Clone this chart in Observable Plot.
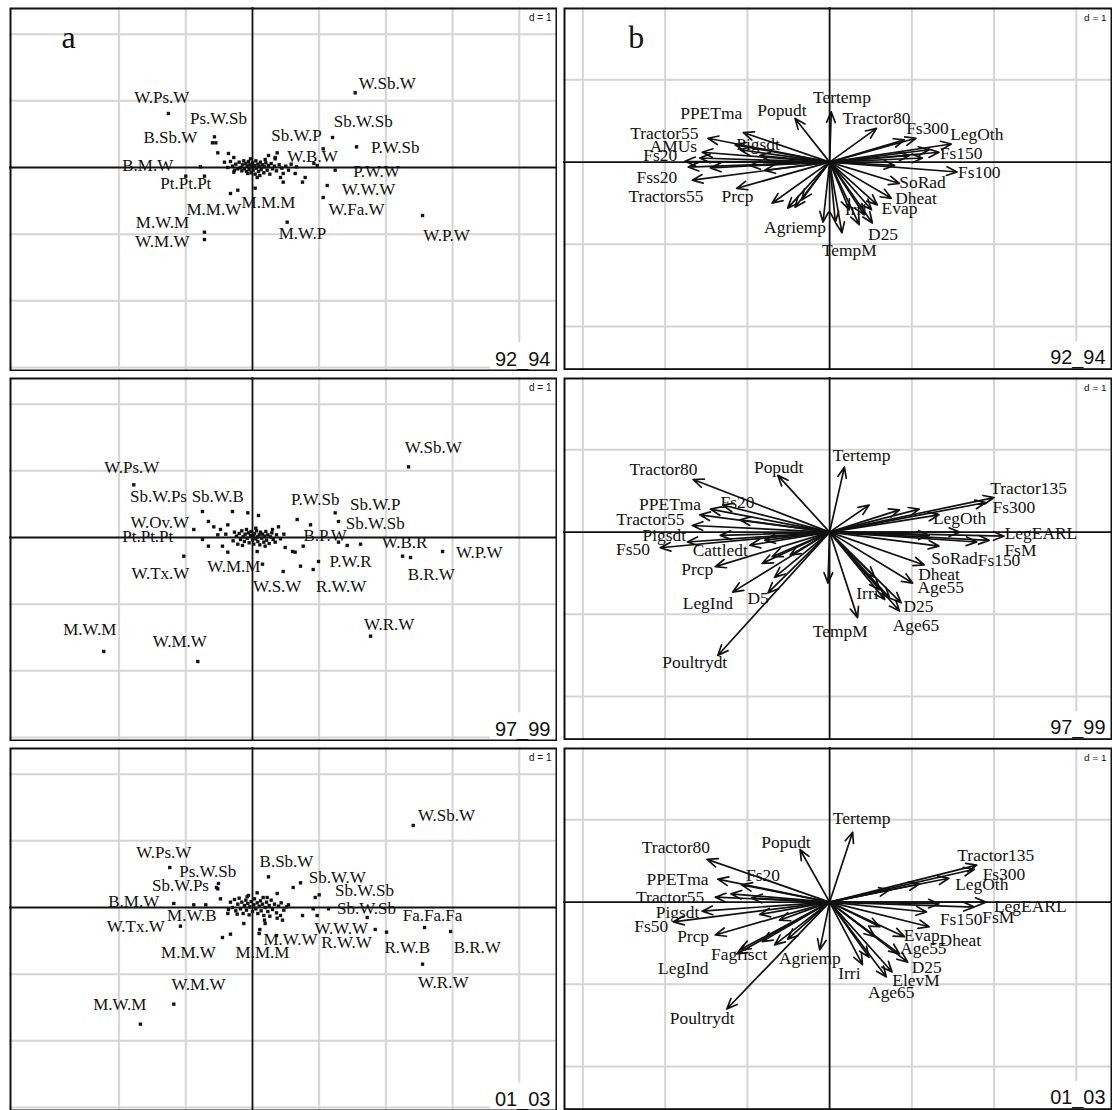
<!DOCTYPE html>
<html><head><meta charset="utf-8">
<script src="https://cdn.jsdelivr.net/npm/d3@7"></script>
<script src="https://cdn.jsdelivr.net/npm/@observablehq/plot@0.6"></script>
<style>
body{margin:0;background:#fff;}
#fig{position:relative;width:1112px;height:1110px;overflow:hidden;background:#fff;}
.panel{position:absolute;}
.panel svg{display:block;}
</style></head><body><div id="fig"></div>
<script>
// ---------- tick / grid values (d = 1) ----------
const leftGridX = [-2, -1, 1, 2, 3, 4];
const leftGridY = [2, 1, -1, -2, -3];
const rightGridX = [-3, -2, -1, 1, 2, 3];
const rightGridY = [1, -1, -2];
const leftXDomain = [-3.643, 4.573];
const leftYDomain = [-3.06, 2.4];
const rightXDomain = [-3.236, 3.44];
const rightYDomain = [-2.53, 1.88];
const periods = ["92_94", "97_99", "01_03"];
const panelLetters = ["a", "b"];

// ---------- (a) crop-sequence scores: [label, x, y, labelX, labelY] ----------
const a1Points = [
  ["W.Ps.W", -1.26, 0.81, -1.36, 1.05], ["Ps.W.Sb", -0.57, 0.46, -0.51, 0.73],
  ["B.Sb.W", -0.60, 0.37, -1.23, 0.45], ["B.M.W", -0.78, 0.01, -1.57, 0.03],
  ["Pt.Pt.Pt", -1.00, -0.13, -1.00, -0.24], ["M.M.W", -0.33, -0.39, -0.58, -0.63],
  ["M.W.M", -0.72, -0.97, -1.35, -0.82], ["W.M.W", -0.72, -1.08, -1.35, -1.11],
  ["M.M.M", 0.04, -0.31, 0.24, -0.52], ["Sb.W.P", 1.06, 0.28, 0.66, 0.48],
  ["W.B.W", 0.97, 0.03, 0.90, 0.16], ["W.Sb.W", 1.54, 1.12, 2.02, 1.26],
  ["Sb.W.Sb", 1.20, 0.45, 1.66, 0.69], ["P.W.Sb", 1.56, 0.31, 2.14, 0.30],
  ["P.W.W", 1.24, -0.04, 1.86, -0.06], ["W.W.W", 1.12, -0.27, 1.74, -0.33],
  ["W.Fa.W", 1.06, -0.45, 1.56, -0.63], ["M.W.P", 0.52, -0.82, 0.75, -0.99],
  ["W.P.W", 2.55, -0.72, 2.91, -1.02]
];
const a1Cloud = [
  [-0.55,0.37],[-0.52,0.22],[-0.36,0.21],[-0.28,0.15],[-0.37,0.00],[-0.28,-0.07],[-0.07,-0.09],[0.07,-0.15],
  [0.24,0.18],[0.34,0.15],[0.46,-0.09],[0.54,-0.04],[0.64,-0.09],[0.75,-0.22],[0.79,-0.15],[0.46,-0.22],
  [0.42,-0.15],[0.92,0.06],[0.37,0.22],[0.34,0.13],[-0.72,-0.13],[-0.22,-0.34],
  [-0.25,0.05],[-0.22,-0.02],[-0.20,0.08],[-0.18,0.00],[-0.16,-0.05],[-0.15,0.04],[-0.13,0.10],[-0.12,-0.02],
  [-0.10,0.06],[-0.09,-0.06],[-0.08,0.02],[-0.06,0.09],[-0.05,-0.03],[-0.04,0.04],[-0.02,-0.08],[-0.01,0.01],
  [0.00,0.07],[0.01,-0.04],[0.03,0.03],[0.04,-0.10],[0.05,0.10],[0.06,-0.01],[0.08,0.05],[0.09,-0.06],
  [0.10,0.02],[0.12,0.08],[0.13,-0.03],[0.15,0.04],[0.17,-0.08],[0.18,0.01],[0.20,0.07],[0.22,-0.04],
  [0.24,0.03],[0.26,-0.10],[0.28,0.06],[0.30,-0.02],[0.33,0.02],[0.36,-0.05],[0.40,0.04],[0.44,-0.01],
  [0.50,0.02],[-0.30,0.02],[-0.33,0.09],[-0.27,-0.04],[0.11,-0.12],[-0.03,0.13],[0.19,0.12],[0.58,0.05],
  [0.66,0.01],[-0.42,0.08]
];

const a2Points = [
  ["W.Ps.W", -1.78, 0.79, -1.81, 1.05], ["Sb.W.Ps", -0.75, 0.39, -1.41, 0.61],
  ["Sb.W.B", -0.30, 0.39, -0.52, 0.61], ["W.Ov.W", -0.88, 0.12, -1.39, 0.22],
  ["Pt.Pt.Pt", -0.75, -0.03, -1.57, 0.02], ["W.Tx.W", -1.03, -0.28, -1.38, -0.54],
  ["W.M.M", 0.15, -0.40, -0.28, -0.43], ["W.S.W", 0.46, -0.51, 0.37, -0.73],
  ["M.W.M", -2.23, -1.71, -2.44, -1.38], ["W.M.W", -0.82, -1.86, -1.09, -1.56],
  ["P.W.Sb", 0.67, 0.27, 0.94, 0.57], ["Sb.W.P", 1.24, 0.37, 1.84, 0.49],
  ["Sb.W.Sb", 1.29, 0.24, 1.84, 0.21], ["B.P.W", 1.29, -0.07, 1.09, 0.03],
  ["W.B.R", 2.25, -0.28, 2.28, -0.07], ["B.R.W", 2.37, -0.30, 2.68, -0.55],
  ["W.P.W", 2.85, -0.21, 3.40, -0.22], ["P.W.R", 0.99, -0.36, 1.47, -0.36],
  ["R.W.W", 0.91, -0.48, 1.33, -0.73], ["W.Sb.W", 2.34, 1.06, 2.71, 1.35],
  ["W.R.W", 1.77, -1.48, 2.05, -1.30]
];
const a2Cloud = [
  [-0.66,0.24],[-0.58,0.16],[-0.48,0.12],[-0.37,0.19],[-0.07,0.37],[0.09,0.33],[-0.66,-0.13],[-0.45,-0.13],
  [-0.37,-0.22],[-0.22,-0.10],[0.07,-0.21],[-0.52,0.04],[0.39,0.16],[0.49,-0.15],[0.60,-0.21],[0.64,-0.22],
  [0.76,-0.13],[0.87,0.19],[0.72,-0.43],[0.34,-0.07],[1.62,-0.10],[1.42,-0.12],
  [-0.20,0.06],[-0.18,-0.03],[-0.16,0.10],[-0.14,0.01],[-0.12,-0.06],[-0.11,0.05],[-0.09,0.12],[-0.08,-0.01],
  [-0.06,0.07],[-0.05,-0.08],[-0.03,0.03],[-0.02,0.09],[0.00,-0.04],[0.01,0.02],[0.02,-0.10],[0.03,0.06],
  [0.05,-0.02],[0.06,0.10],[0.07,0.01],[0.08,-0.06],[0.10,0.04],[0.11,-0.11],[0.12,0.08],[0.14,-0.01],
  [0.15,0.05],[0.17,-0.07],[0.18,0.02],[0.20,0.09],[0.21,-0.04],[0.23,0.04],[0.25,-0.09],[0.27,0.01],
  [0.29,0.07],[0.31,-0.03],[-0.24,0.02],[-0.27,0.08],[-0.29,-0.05],[0.36,0.04],[0.42,-0.02],[0.05,0.14],
  [-0.15,-0.12],[0.19,-0.13],[0.30,0.12],[0.47,0.05],[-0.40,0.05]
];

const a3Points = [
  ["W.Ps.W", -1.24, 0.60, -1.33, 0.82], ["Ps.W.Sb", -0.51, 0.36, -0.67, 0.54],
  ["Sb.W.Ps", -0.52, 0.28, -1.08, 0.33], ["B.M.W", -1.18, 0.06, -1.78, 0.09],
  ["W.Tx.W", -1.08, -0.28, -1.75, -0.28], ["M.W.B", -0.88, 0.04, -0.91, -0.12],
  ["M.M.W", -0.45, -0.45, -0.96, -0.67], ["M.M.M", 0.10, -0.39, 0.15, -0.67],
  ["W.M.W", -1.18, -1.45, -0.81, -1.15], ["M.W.M", -1.68, -1.75, -1.99, -1.45],
  ["B.Sb.W", 0.24, 0.46, 0.51, 0.69], ["M.W.W", 0.36, -0.42, 0.57, -0.48],
  ["Sb.W.W", 0.72, 0.37, 1.27, 0.45], ["Sb.W.Sb", 1.00, 0.19, 1.68, 0.25],
  ["Sb.W.Sb", 1.14, -0.02, 1.71, -0.02], ["Fa.Fa.Fa", 2.58, -0.30, 2.70, -0.12],
  ["B.R.W", 2.97, -0.36, 3.37, -0.60], ["R.W.B", 2.01, -0.37, 2.32, -0.60],
  ["W.R.W", 2.55, -0.85, 2.86, -1.12], ["W.W.W", 1.84, -0.33, 1.33, -0.31],
  ["R.W.W", 1.72, -0.15, 1.41, -0.52], ["W.Sb.W", 2.41, 1.23, 2.91, 1.38]
];
const a3Cloud = [
  [0.61,0.30],[0.37,0.21],[0.54,0.04],[0.75,-0.12],[0.91,-0.02],[0.97,-0.12],[0.94,0.15],[0.42,-0.12],
  [0.45,-0.19],[0.37,-0.16],[-0.54,0.30],[-0.48,0.13],[-0.37,-0.09],[-0.13,-0.24],[0.18,-0.19],[0.19,-0.24],
  [0.07,0.22],[0.22,0.15],[-0.06,0.18],[-0.70,0.04],[-0.33,-0.40],[0.11,-0.33],
  [-0.33,0.08],[-0.30,0.00],[-0.27,0.12],[-0.25,-0.05],[-0.22,0.05],[-0.20,0.14],[-0.18,-0.02],[-0.16,0.08],
  [-0.14,-0.09],[-0.12,0.03],[-0.10,0.11],[-0.09,-0.04],[-0.07,0.06],[-0.05,-0.11],[-0.04,0.01],[-0.02,0.09],
  [0.00,-0.06],[0.02,0.04],[0.03,0.13],[0.05,-0.02],[0.07,0.07],[0.08,-0.09],[0.10,0.02],[0.12,0.10],
  [0.13,-0.05],[0.15,0.05],[0.17,-0.12],[0.19,0.00],[0.21,0.08],[0.23,-0.06],[0.25,0.03],[0.28,0.11],
  [0.30,-0.03],[0.33,0.05],[0.36,-0.08],[0.39,0.02],[0.43,0.07],[0.47,-0.04],[0.51,0.01],[-0.36,-0.03],
  [-0.08,0.16],[0.16,0.15],[0.26,-0.13],[-0.23,-0.10]
];

// ---------- (b) variable loadings: [label, x, y, labelX, labelY] ("" = unlabelled arrow) ----------
const b1Arrows = [
  ["Tertemp", 0.02, 0.61, 0.15, 0.79], ["Popudt", -0.42, 0.53, -0.58, 0.63],
  ["PPETma", -1.05, 0.36, -1.44, 0.59], ["Tractor55", -1.48, 0.29, -2.01, 0.35],
  ["AMUs", -1.55, 0.12, -1.90, 0.19], ["Pigsdt", -1.15, 0.21, -0.87, 0.21],
  ["Fs20", -1.76, 0.01, -2.06, 0.08], ["Fss20", -1.67, -0.22, -2.10, -0.18],
  ["Tractors55", -1.72, -0.06, -1.99, -0.42], ["Prcp", -1.13, -0.32, -1.12, -0.42],
  ["Agriemp", -0.08, -0.73, -0.42, -0.79], ["TempM", 0.15, -0.86, 0.24, -1.07],
  ["Irri", 0.07, -0.73, 0.32, -0.58], ["D25", 0.52, -0.74, 0.65, -0.88],
  ["Evap", 0.51, -0.58, 0.85, -0.56], ["Dheat", 0.75, -0.44, 1.05, -0.44],
  ["SoRad", 0.85, -0.26, 1.13, -0.25], ["Fs100", 1.55, -0.12, 1.82, -0.13],
  ["Fs150", 1.33, 0.12, 1.60, 0.10], ["LegOth", 1.48, 0.22, 1.79, 0.34],
  ["Fs300", 1.05, 0.29, 1.19, 0.41], ["Tractor80", 0.57, 0.41, 0.57, 0.53],
  ["", 1.21, 0.15], ["", 1.13, 0.05], ["", 0.97, 0.08], ["", 0.91, 0.27], ["", 0.79, -0.04],
  ["", -1.09, 0.15], ["", -0.85, 0.08], ["", -0.97, -0.04], ["", -0.79, -0.10], ["", -1.45, -0.07],
  ["", -1.58, 0.05], ["", -0.70, -0.50], ["", -0.51, -0.56], ["", -0.42, -0.55], ["", -0.34, -0.46],
  ["", 0.42, -0.64], ["", 0.58, -0.52], ["", 0.36, -0.76], ["", 0.24, -0.58]
];
const b2Arrows = [
  ["Tertemp", 0.18, 0.79, 0.39, 0.93], ["Popudt", -0.63, 0.69, -0.62, 0.79],
  ["Tractor80", -1.66, 0.64, -2.02, 0.76], ["Fs20", -1.30, 0.33, -1.12, 0.36],
  ["PPETma", -1.45, 0.28, -1.94, 0.34], ["Tractor55", -1.67, 0.08, -2.18, 0.16],
  ["Pigsdt", -1.73, -0.12, -2.01, -0.04], ["Fs50", -2.06, -0.19, -2.39, -0.21],
  ["Cattledt", -0.97, -0.16, -1.33, -0.22], ["Prcp", -1.39, -0.42, -1.61, -0.45],
  ["LegInd", -1.18, -0.73, -1.48, -0.87], ["D5", -0.75, -0.74, -0.87, -0.81],
  ["Poultrydt", -1.36, -1.50, -1.64, -1.59], ["TempM", 0.34, -1.04, 0.13, -1.21],
  ["Irri", 0.67, -0.82, 0.46, -0.75], ["D25", 0.87, -0.86, 1.08, -0.90],
  ["Age65", 0.85, -0.96, 1.05, -1.14], ["Age55", 1.01, -0.62, 1.35, -0.67],
  ["Dheat", 1.15, -0.40, 1.33, -0.51], ["SoRad", 1.33, -0.17, 1.52, -0.32],
  ["Fs150", 1.79, -0.12, 2.06, -0.35], ["FsM", 1.94, -0.10, 2.32, -0.22],
  ["LegEARL", 2.12, -0.05, 2.57, -0.02], ["LegOth", 1.09, 0.28, 1.58, 0.17],
  ["Fs300", 1.90, 0.36, 2.24, 0.30], ["Tractor135", 2.00, 0.42, 2.42, 0.53],
  ["", 0.48, 0.33], ["", 0.85, 0.27], ["", 1.33, 0.21], ["", 1.58, 0.00], ["", 1.21, -0.04],
  ["", -1.09, 0.15], ["", -1.58, 0.21], ["", -1.33, -0.04], ["", -0.79, -0.10], ["", -0.48, -0.28],
  ["", -0.82, -0.38], ["", -0.70, -0.30], ["", -0.67, -0.55], ["", -0.02, -0.62], ["", 0.61, -0.70],
  ["", 0.73, -0.80], ["", 0.55, -0.55]
];
const b3Arrows = [
  ["Tertemp", 0.28, 0.85, 0.39, 1.02], ["Popudt", -0.36, 0.64, -0.53, 0.73],
  ["Tractor80", -1.49, 0.52, -1.87, 0.67], ["Fs20", -1.07, 0.21, -0.81, 0.32],
  ["PPETma", -1.36, 0.28, -1.85, 0.27], ["Tractor55", -1.39, 0.06, -1.94, 0.06],
  ["Pigsdt", -1.55, -0.11, -1.85, -0.13], ["Fs50", -1.90, -0.24, -2.17, -0.30],
  ["Prcp", -1.39, -0.40, -1.66, -0.42], ["Fagrisct", -1.13, -0.63, -1.10, -0.64],
  ["LegInd", -1.09, -0.58, -1.78, -0.81], ["Agriemp", -0.12, -0.58, -0.24, -0.69],
  ["Poultrydt", -1.25, -1.30, -1.55, -1.41], ["Irri", 0.40, -0.76, 0.24, -0.87],
  ["Age65", 0.69, -0.91, 0.75, -1.10], ["ElevM", 0.76, -0.85, 1.05, -0.95],
  ["D25", 0.95, -0.73, 1.18, -0.80], ["Age55", 0.85, -0.63, 1.14, -0.56],
  ["Evap", 0.91, -0.42, 1.12, -0.40], ["Dheat", 1.21, -0.30, 1.59, -0.46],
  ["Fs150", 1.18, -0.12, 1.60, -0.21], ["FsM", 1.76, -0.06, 2.05, -0.19],
  ["LegEARL", 1.90, 0.00, 2.44, -0.05], ["LegOth", 1.45, 0.29, 1.85, 0.21],
  ["Fs300", 1.76, 0.40, 2.12, 0.34], ["Tractor135", 1.79, 0.45, 2.02, 0.57],
  ["", -0.82, -0.48], ["", -0.67, -0.52], ["", -0.51, -0.45], ["", -0.85, -0.15], ["", -0.61, -0.22],
  ["", 0.73, 0.15], ["", 1.09, 0.22], ["", 1.33, -0.02], ["", 0.61, -0.30], ["", 0.55, -0.42],
  ["", 0.48, -0.67], ["", -1.20, 0.10], ["", -0.95, 0.05]
];

// ---------- drawing ----------
const SERIF = "'Liberation Serif', 'Times New Roman', serif";
const SANS = "'Liberation Sans', Arial, sans-serif";
const GRID = "#d5d5d5";
const INK = "#111";

function cornerMarks(tag, letter, letterDx) {
  const m = [
    Plot.text(["d = 1"], {frameAnchor: "top-right", textAnchor: "end", lineAnchor: "top", dx: -6, dy: 6, fontSize: 10, fontFamily: SANS, fill: INK}),
    Plot.text([tag], {frameAnchor: "bottom-right", textAnchor: "end", lineAnchor: "bottom", dx: -7, dy: -6, fontSize: 20, fontFamily: SANS, fill: INK})
  ];
  if (letter) m.push(Plot.text([letter], {frameAnchor: "top-left", textAnchor: "start", lineAnchor: "top", dx: letterDx, dy: 18, fontSize: 32, fontFamily: SERIF, fill: INK}));
  return m;
}

function leftPanel(points, cloud, tag, letter) {
  const pts = points.map(d => ({name: d[0], x: d[1], y: d[2], lx: d[3], ly: d[4]}));
  const cl = cloud.map(d => ({x: d[0], y: d[1]}));
  return Plot.plot({
    width: 548, height: 364, margin: 0,
    x: {domain: leftXDomain, axis: null},
    y: {domain: leftYDomain, axis: null},
    style: {background: "white"},
    marks: [
      Plot.ruleX(leftGridX, {stroke: GRID, strokeWidth: 2}),
      Plot.ruleY(leftGridY, {stroke: GRID, strokeWidth: 2}),
      Plot.ruleX([0], {stroke: INK, strokeWidth: 1.8}),
      Plot.ruleY([0], {stroke: INK, strokeWidth: 1.8}),
      Plot.dot(cl, {x: "x", y: "y", r: 1.9, fill: INK, symbol: "square"}),
      Plot.dot(pts, {x: "x", y: "y", r: 1.9, fill: INK, symbol: "square"}),
      Plot.text(pts, {x: "lx", y: "ly", text: "name", fontSize: 17, fontFamily: SERIF, fill: INK}),
      ...cornerMarks(tag, letter, 52),
      Plot.frame({stroke: INK, strokeWidth: 2, inset: 1})
    ]
  });
}

function rightPanel(arrows, tag, letter) {
  const arr = arrows.map(d => ({name: d[0], x: d[1], y: d[2], lx: d[3], ly: d[4]}));
  const labelled = arr.filter(d => d.name !== "");
  return Plot.plot({
    width: 551, height: 364, margin: 0,
    x: {domain: rightXDomain, axis: null},
    y: {domain: rightYDomain, axis: null},
    style: {background: "white"},
    marks: [
      Plot.ruleX(rightGridX, {stroke: GRID, strokeWidth: 2}),
      Plot.ruleY(rightGridY, {stroke: GRID, strokeWidth: 2}),
      Plot.ruleX([0], {stroke: INK, strokeWidth: 1.8}),
      Plot.ruleY([0], {stroke: INK, strokeWidth: 1.8}),
      Plot.arrow(arr, {x1: () => 0, y1: () => 0, x2: "x", y2: "y", stroke: INK, strokeWidth: 1.7, headLength: 10, headAngle: 45}),
      Plot.text(labelled, {x: "lx", y: "ly", text: "name", fontSize: 17.5, fontFamily: SERIF, fill: INK}),
      ...cornerMarks(tag, letter, 65),
      Plot.frame({stroke: INK, strokeWidth: 2, inset: 1})
    ]
  });
}

const fig = document.getElementById("fig");
const rowTops = [7, 377, 747];
const panels = [
  [leftPanel(a1Points, a1Cloud, periods[0], panelLetters[0]), 9, rowTops[0]],
  [rightPanel(b1Arrows, periods[0], panelLetters[1]), 563, rowTops[0]],
  [leftPanel(a2Points, a2Cloud, periods[1], null), 9, rowTops[1]],
  [rightPanel(b2Arrows, periods[1], null), 563, rowTops[1]],
  [leftPanel(a3Points, a3Cloud, periods[2], null), 9, rowTops[2]],
  [rightPanel(b3Arrows, periods[2], null), 563, rowTops[2]]
];
for (const [svg, left, top] of panels) {
  const div = document.createElement("div");
  div.className = "panel";
  div.style.left = left + "px";
  div.style.top = top + "px";
  div.appendChild(svg);
  fig.appendChild(div);
  // white boxes behind the corner tags, as in ade4 plots
  for (const t of svg.querySelectorAll("text")) {
    const s = t.textContent;
    if (s === "d = 1" || periods.includes(s)) {
      const bb = t.getBBox();
      const pad = s === "d = 1" ? 3 : 5;
      const r = document.createElementNS("http://www.w3.org/2000/svg", "rect");
      r.setAttribute("x", bb.x - pad);
      r.setAttribute("y", bb.y - pad);
      r.setAttribute("width", bb.width + 2 * pad);
      r.setAttribute("height", bb.height + 2 * pad);
      r.setAttribute("fill", "white");
      r.setAttribute("stroke", "none");
      const tr = t.getAttribute("transform");
      if (tr) r.setAttribute("transform", tr);
      t.parentNode.insertBefore(r, t);
    }
  }
}
</script></body></html>
